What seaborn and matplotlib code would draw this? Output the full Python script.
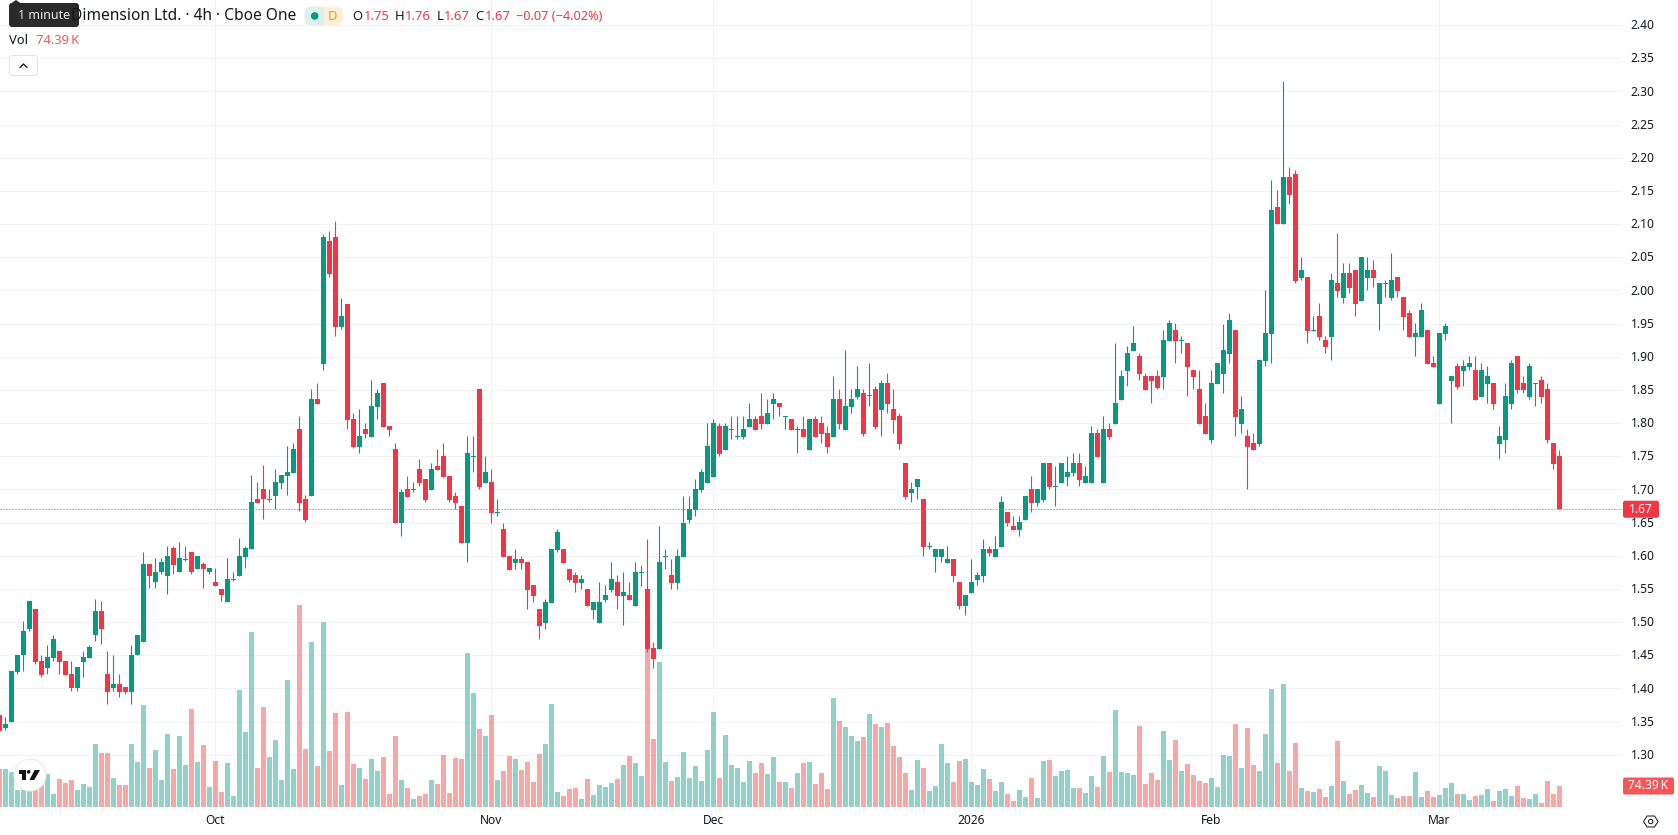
import numpy as np
import pandas as pd
import matplotlib
matplotlib.use("Agg")
import matplotlib.pyplot as plt
from matplotlib.patches import Circle, FancyBboxPatch, Polygon, Rectangle
from matplotlib.transforms import ScaledTranslation
import seaborn as sns

# 4h candles, oldest first (USD)
opens = [
    1.360,1.340,1.349,1.425,1.450,1.489,1.520,1.441,1.431,1.446,
    1.456,1.441,1.421,1.401,1.440,1.446,1.480,1.516,1.421,1.401,
    1.406,1.402,1.394,1.450,1.470,1.587,1.560,1.575,1.570,1.611,
    1.575,1.594,1.606,1.580,1.587,1.575,1.561,1.550,1.530,1.564,
    1.570,1.598,1.610,1.686,1.701,1.684,1.690,1.710,1.720,1.725,
    1.791,1.686,1.690,1.836,1.889,2.075,2.080,1.944,1.980,1.806,
    1.764,1.791,1.779,1.824,1.860,1.796,1.761,1.650,1.700,1.699,
    1.730,1.715,1.699,1.735,1.750,1.720,1.690,1.675,1.619,1.749,
    1.851,1.709,1.711,1.665,1.640,1.599,1.589,1.595,1.590,1.556,
    1.519,1.498,1.528,1.608,1.610,1.580,1.571,1.559,1.549,1.518,
    1.498,1.533,1.548,1.560,1.539,1.540,1.524,1.574,1.549,1.461,
    1.459,1.598,1.571,1.559,1.598,1.654,1.669,1.699,1.709,1.718,
    1.795,1.759,1.790,1.779,1.779,1.794,1.806,1.810,1.798,1.828,
    1.830,1.809,1.806,1.790,1.791,1.759,1.806,1.800,1.785,1.779,
    1.836,1.789,1.824,1.839,1.845,1.840,1.851,1.820,1.860,1.821,
    1.811,1.740,1.694,1.704,1.685,1.613,1.598,1.598,1.589,1.595,
    1.560,1.524,1.544,1.563,1.569,1.610,1.598,1.613,1.666,1.645,
    1.639,1.654,1.700,1.679,1.684,1.740,1.704,1.710,1.719,1.725,
    1.740,1.710,1.710,1.785,1.710,1.791,1.798,1.835,1.879,1.909,
    1.901,1.871,1.871,1.871,1.869,1.924,1.940,1.924,1.921,1.880,
    1.851,1.811,1.775,1.859,1.874,1.904,1.940,1.799,1.780,1.770,
    1.769,1.893,1.934,2.126,2.100,2.171,2.175,2.019,2.020,1.939,
    1.961,1.925,1.930,2.011,1.988,2.026,2.031,1.984,2.019,2.031,
    1.979,2.010,1.988,2.020,1.990,1.966,1.930,1.930,1.940,1.890,
    1.829,1.934,1.863,1.886,1.878,1.884,1.880,1.839,1.859,1.860,
    1.768,1.774,1.829,1.901,1.860,1.839,1.859,1.865,1.851,1.770,1.750,
]
highs = [
    1.360,1.357,1.426,1.451,1.501,1.531,1.520,1.451,1.466,1.481,
    1.456,1.441,1.441,1.432,1.456,1.466,1.535,1.531,1.456,1.451,
    1.421,1.402,1.466,1.481,1.606,1.587,1.596,1.596,1.615,1.615,
    1.621,1.615,1.606,1.600,1.591,1.581,1.581,1.550,1.596,1.576,
    1.626,1.615,1.721,1.711,1.736,1.701,1.731,1.721,1.766,1.770,
    1.811,1.691,1.851,1.860,2.085,2.090,2.105,1.989,1.980,1.815,
    1.821,1.800,1.865,1.851,1.860,1.796,1.770,1.701,1.720,1.711,
    1.745,1.715,1.739,1.761,1.770,1.720,1.696,1.675,1.780,1.780,
    1.851,1.750,1.730,1.685,1.650,1.599,1.610,1.599,1.590,1.556,
    1.519,1.534,1.610,1.640,1.610,1.580,1.575,1.571,1.549,1.530,
    1.560,1.556,1.590,1.571,1.575,1.560,1.590,1.586,1.625,1.470,
    1.644,1.610,1.595,1.610,1.690,1.690,1.715,1.730,1.800,1.806,
    1.800,1.800,1.810,1.810,1.810,1.830,1.810,1.845,1.836,1.845,
    1.830,1.810,1.806,1.795,1.810,1.806,1.810,1.811,1.795,1.871,
    1.851,1.910,1.851,1.886,1.851,1.890,1.856,1.865,1.875,1.851,
    1.815,1.740,1.711,1.716,1.685,1.621,1.610,1.610,1.615,1.595,
    1.560,1.541,1.595,1.575,1.625,1.615,1.630,1.690,1.666,1.660,
    1.660,1.690,1.720,1.700,1.740,1.740,1.735,1.740,1.750,1.755,
    1.755,1.735,1.795,1.791,1.811,1.800,1.921,1.880,1.916,1.946,
    1.906,1.875,1.871,1.880,1.940,1.955,1.951,1.931,1.921,1.880,
    1.880,1.830,1.880,1.890,1.950,1.966,1.940,1.841,1.791,1.785,
    1.895,2.000,2.166,2.151,2.316,2.186,2.181,2.050,2.020,1.961,
    1.981,1.931,2.026,2.086,2.041,2.041,2.031,2.050,2.050,2.046,
    2.011,2.016,2.056,2.020,1.990,1.970,1.951,1.981,1.940,1.901,
    1.936,1.951,1.871,1.890,1.895,1.901,1.901,1.890,1.886,1.860,
    1.795,1.860,1.895,1.901,1.871,1.890,1.860,1.871,1.860,1.770,1.760,
]
lows = [
    1.335,1.337,1.349,1.422,1.426,1.487,1.437,1.417,1.422,1.441,
    1.422,1.420,1.396,1.396,1.417,1.446,1.472,1.467,1.377,1.396,
    1.387,1.392,1.377,1.450,1.470,1.551,1.551,1.572,1.542,1.572,
    1.575,1.592,1.572,1.580,1.551,1.572,1.555,1.532,1.530,1.562,
    1.570,1.581,1.610,1.680,1.656,1.681,1.671,1.701,1.691,1.725,
    1.667,1.651,1.690,1.829,1.880,2.020,1.931,1.941,1.791,1.762,
    1.755,1.777,1.779,1.806,1.794,1.781,1.650,1.630,1.688,1.696,
    1.705,1.681,1.699,1.729,1.718,1.681,1.670,1.619,1.590,1.726,
    1.700,1.709,1.650,1.660,1.598,1.578,1.580,1.580,1.519,1.530,
    1.474,1.489,1.528,1.605,1.589,1.560,1.545,1.549,1.524,1.504,
    1.498,1.530,1.545,1.519,1.495,1.533,1.524,1.555,1.455,1.430,
    1.459,1.580,1.549,1.549,1.598,1.650,1.660,1.696,1.709,1.718,
    1.750,1.759,1.776,1.776,1.776,1.794,1.789,1.791,1.798,1.806,
    1.810,1.791,1.789,1.755,1.779,1.759,1.779,1.770,1.755,1.779,
    1.791,1.789,1.815,1.836,1.780,1.826,1.791,1.780,1.815,1.785,
    1.761,1.685,1.681,1.685,1.599,1.610,1.575,1.590,1.589,1.560,
    1.520,1.511,1.544,1.556,1.560,1.599,1.598,1.613,1.645,1.639,
    1.630,1.654,1.666,1.675,1.681,1.701,1.675,1.710,1.705,1.720,
    1.705,1.710,1.710,1.749,1.710,1.776,1.798,1.835,1.856,1.909,
    1.865,1.850,1.830,1.851,1.851,1.924,1.890,1.906,1.841,1.851,
    1.798,1.784,1.770,1.859,1.845,1.890,1.780,1.785,1.700,1.759,
    1.765,1.886,1.890,2.100,2.100,2.130,2.011,2.016,1.921,1.939,
    1.925,1.906,1.895,1.990,1.981,1.996,1.961,1.984,2.000,2.005,
    1.940,1.990,1.985,1.990,1.940,1.930,1.901,1.930,1.889,1.884,
    1.829,1.925,1.800,1.851,1.856,1.880,1.835,1.839,1.830,1.821,
    1.746,1.755,1.821,1.845,1.845,1.836,1.826,1.830,1.770,1.730,1.670,
]
closes = [
    1.335,1.346,1.426,1.451,1.486,1.531,1.440,1.420,1.447,1.475,
    1.440,1.420,1.401,1.432,1.447,1.462,1.516,1.489,1.394,1.406,
    1.394,1.394,1.451,1.481,1.587,1.570,1.576,1.591,1.600,1.586,
    1.596,1.595,1.575,1.600,1.580,1.581,1.555,1.540,1.565,1.565,
    1.600,1.611,1.681,1.680,1.685,1.685,1.711,1.721,1.726,1.761,
    1.680,1.654,1.836,1.829,2.080,2.024,1.944,1.961,1.805,1.764,
    1.781,1.784,1.826,1.845,1.794,1.789,1.650,1.696,1.688,1.700,
    1.709,1.684,1.730,1.729,1.718,1.684,1.679,1.619,1.755,1.750,
    1.703,1.726,1.664,1.666,1.598,1.578,1.595,1.589,1.548,1.539,
    1.494,1.530,1.610,1.635,1.589,1.563,1.559,1.565,1.524,1.530,
    1.530,1.540,1.565,1.539,1.545,1.533,1.575,1.575,1.459,1.444,
    1.590,1.599,1.559,1.599,1.650,1.670,1.700,1.726,1.765,1.800,
    1.753,1.795,1.791,1.780,1.791,1.806,1.789,1.798,1.815,1.836,
    1.824,1.810,1.789,1.791,1.779,1.806,1.779,1.783,1.764,1.836,
    1.798,1.826,1.836,1.851,1.783,1.841,1.794,1.860,1.829,1.805,
    1.768,1.688,1.700,1.716,1.613,1.614,1.610,1.610,1.595,1.569,
    1.524,1.541,1.560,1.571,1.610,1.604,1.610,1.681,1.649,1.639,
    1.651,1.690,1.679,1.700,1.740,1.704,1.705,1.740,1.726,1.740,
    1.714,1.720,1.785,1.749,1.791,1.779,1.830,1.871,1.906,1.921,
    1.874,1.850,1.863,1.853,1.925,1.951,1.924,1.925,1.884,1.869,
    1.798,1.784,1.860,1.890,1.910,1.955,1.809,1.821,1.764,1.759,
    1.895,1.936,2.121,2.100,2.171,2.144,2.014,2.031,1.939,1.940,
    1.930,1.915,2.016,1.999,2.026,2.004,1.979,2.050,2.031,2.019,
    2.011,2.011,2.016,1.999,1.960,1.930,1.936,1.970,1.889,1.884,
    1.936,1.946,1.871,1.854,1.886,1.890,1.835,1.880,1.871,1.829,
    1.780,1.841,1.890,1.850,1.850,1.886,1.860,1.839,1.774,1.738,1.670,
]
# Volume per candle, thousands of shares
volumes = [
    134.5,134.5,123.9,60.2,60.2,70.8,70.8,77.9,116.8,46.0,
    99.1,85.0,95.6,60.2,81.4,70.8,223.0,191.2,191.2,102.7,
    77.9,77.9,223.0,159.3,361.1,138.1,201.8,95.6,258.4,134.5,
    251.3,148.7,346.9,159.3,219.5,70.8,162.8,53.1,155.8,38.9,
    414.2,265.5,619.5,138.1,354.0,177.0,237.2,95.6,449.6,134.5,
    715.1,205.3,584.1,145.1,654.9,198.2,332.8,77.9,336.3,152.2,
    138.1,99.1,169.9,127.4,177.0,46.0,251.3,95.6,67.3,28.3,
    38.9,46.0,95.6,81.4,184.1,49.6,173.5,169.9,545.2,403.6,
    276.1,251.3,325.7,95.6,127.4,180.5,169.9,131.0,159.3,88.5,
    187.6,223.0,364.6,53.1,38.9,63.7,67.3,28.3,99.1,42.5,
    77.9,70.8,85.0,99.1,148.7,180.5,155.8,109.7,559.3,240.7,
    513.3,159.3,92.0,106.2,194.7,102.7,145.1,92.0,201.8,336.3,
    102.7,254.9,148.7,138.1,88.5,162.8,120.4,155.8,116.8,177.0,
    88.5,88.5,67.3,120.4,155.8,159.3,81.4,120.4,63.7,385.9,
    304.4,283.2,251.3,233.6,247.8,329.2,293.8,283.2,297.4,215.9,
    177.0,120.4,60.2,166.4,138.1,56.6,74.3,223.0,155.8,88.5,
    162.8,169.9,88.5,77.9,134.5,99.1,56.6,88.5,46.0,21.2,
    60.2,35.4,102.7,31.9,162.8,166.4,109.7,127.4,131.0,67.3,
    67.3,49.6,109.7,70.8,180.5,123.9,343.4,123.9,120.4,113.3,
    286.7,81.4,120.4,95.6,269.0,166.4,237.2,127.4,152.2,113.3,
    92.0,85.0,102.7,70.8,184.1,180.5,293.8,138.1,279.7,148.7,
    127.4,258.4,417.7,155.8,435.4,127.4,226.6,67.3,56.6,53.1,
    63.7,35.4,74.3,233.6,92.0,46.0,60.2,77.9,49.6,35.4,
    145.1,127.4,42.5,31.9,38.9,38.9,123.9,35.4,56.6,35.4,
    42.5,67.3,85.0,46.0,46.0,24.8,38.9,42.5,63.7,21.2,
    56.6,63.7,38.9,74.39,31.9,28.3,46.0,14.2,92.0,46.0,74.39,
]
price_ticks = [1.30,1.35,1.40,1.45,1.50,1.55,1.60,1.65,1.70,1.75,1.80,1.85,
               1.90,1.95,2.00,2.05,2.10,2.15,2.20,2.25,2.30,2.35,2.40]
month_bars = [35, 81, 118, 161, 201, 239]
month_labels = ["Oct", "Nov", "Dec", "2026", "Feb", "Mar"]
last_price = 1.67
last_volume = 74.39

UP, DOWN = "#089981", "#F23645"
VOL_UP, VOL_DOWN = "#27A595", "#F0524F"
TAG_RED = "#F4565A"
INK = "#131722"
GRID = "#F2F3F5"
W, H = 1678, 835
PANE_W, PANE_H = 1622, 808
PX = 0.72  # points per pixel at 100 dpi

sns.set_theme(style="white", rc={"axes.edgecolor": "white"})
plt.rcParams["font.family"] = ["Noto Sans", "DejaVu Sans"]

opens, highs, lows, closes = map(np.array, (opens, highs, lows, closes))
bars = np.arange(len(opens)) - 1
rising = closes >= opens
frame = pd.DataFrame({"bar": bars, "volume": volumes,
                      "side": np.where(rising, "up", "down")})

fig = plt.figure(figsize=(W / 100, H / 100), dpi=100, facecolor="white")
ax = fig.add_axes([0, 1 - PANE_H / H, PANE_W / W, PANE_H / H])
ax_vol = ax.twinx()
ax_candle = ax.twinx()

xlim = (-5.33 / 6, (PANE_W - 5.33) / 6)
price_lim = (1.2196, 2.4377)

# Base layer: grid and the two axes' labels
ax.set_xlim(xlim)
ax.set_ylim(price_lim)
ax.yaxis.tick_right()
ax.set_yticks(price_ticks)
ax.set_yticklabels([f"{t:.2f}" for t in price_ticks], fontsize=12 * PX, color=INK)
ax.set_xticks(month_bars)
ax.set_xticklabels(month_labels, fontsize=12 * PX, color=INK)
ax.get_xticklabels()[3].set_fontweight("bold")
ax.tick_params(axis="y", length=0, pad=6.2, labelright=True, labelleft=False)
ax.tick_params(axis="x", length=0, pad=4.5)
ax.grid(True, color=GRID, linewidth=PX)
ax.set_axisbelow(True)
lift = ScaledTranslation(0, 0.7 / 100, fig.dpi_scale_trans)
for tick_label in ax.get_yticklabels():
    tick_label.set_transform(tick_label.get_transform() + lift)

# Volume histogram sharing the pane's lower edge
sns.barplot(data=frame, x="bar", y="volume", hue="side", ax=ax_vol,
            palette={"up": VOL_UP, "down": VOL_DOWN}, native_scale=True,
            dodge=False, width=5 / 6, errorbar=None, saturation=1,
            alpha=0.5, linewidth=0, legend=False)
ax_vol.set_xlim(xlim)
ax_vol.set_ylim(-3.54, 2856.8)
ax_vol.set_xlabel("")
ax_vol.set_ylabel("")
ax_vol.set_yticks([])
ax_vol.grid(False)

# Candles: wicks first, bodies above
colors = np.where(rising, UP, DOWN)
ax_candle.vlines(bars, lows, highs, colors=colors, linewidth=1.1 * PX)
body_low = np.minimum(opens, closes)
body_height = np.maximum(np.abs(opens - closes), 0.0015)
ax_candle.bar(bars, body_height, bottom=body_low, width=5 / 6, color=colors, linewidth=0)
ax_candle.axhline(last_price, color=DOWN, linewidth=PX, linestyle=(0, (1, 2)))
ax_candle.set_xlim(xlim)
ax_candle.set_ylim(price_lim)
ax_candle.set_yticks([])
ax_candle.grid(False)

for a in (ax, ax_vol, ax_candle):
    for spine in a.spines.values():
        spine.set_visible(False)


def pane_y(axes, value):
    """Pixel row, counted from the top of the figure, of a value on an axes."""
    return H - axes.transData.transform((0, value))[1]


# Overlay in figure pixels for the legend, tags and badges
ui = fig.add_axes([0, 0, 1, 1], zorder=10)
ui.set_xlim(0, W)
ui.set_ylim(H, 0)
ui.axis("off")


def label(x, y, text, size=13, color=INK, ha="left", **kw):
    ui.text(x, y, text, fontsize=size * PX, color=color, ha=ha, va="center", **kw)


def rounded(x0, y0, x1, y1, r, **kw):
    ui.add_patch(FancyBboxPatch((x0 + r, y0 + r), x1 - x0 - 2 * r, y1 - y0 - 2 * r,
                                boxstyle=f"round,pad={r},rounding_size={r}", **kw))


# Legend row
label(71, 16, "Dimension Ltd. · 4h · Cboe One", size=15.5)
ui.add_patch(FancyBboxPatch((307, 9), 34, 14, boxstyle="round,pad=2.5,rounding_size=8",
                            facecolor="#FFF0DC", edgecolor="none"))
ui.add_patch(Rectangle((312, 6.5), 12, 19, facecolor="#DDF2EE", edgecolor="none"))
ui.add_patch(FancyBboxPatch((307, 9), 12, 14, boxstyle="round,pad=2.5,rounding_size=8",
                            facecolor="#DDF2EE", edgecolor="none"))
ui.add_patch(Circle((314.7, 16), 3.8, facecolor=UP, edgecolor="none"))
label(332.6, 16, "D", size=13, color="#FF9800", ha="center", fontweight="medium")
for x_key, key, x_val, val in [(352, "O", 364, "1.75"), (395, "H", 405, "1.76"),
                               (437, "L", 444, "1.67"), (475, "C", 485, "1.67")]:
    label(x_key, 16, key, size=13)
    label(x_val, 16, val, size=13, color=DOWN)
label(516, 16, "−0.07 (−4.02%)", size=12.8, color=DOWN)

label(9, 41, "Vol", size=13)
label(36, 41, "74.39\u2009K", size=13, color=TAG_RED)
rounded(9.5, 55.5, 37.5, 75.5, 3, facecolor="white", edgecolor="#E0E3EB", linewidth=PX)
ui.plot([20, 23.5, 27], [67.5, 64, 67.5], color=INK, linewidth=1.4 * PX, solid_capstyle="round")

# Tooltip laid over the symbol name
rounded(9, 3, 79, 27, 3, facecolor="#2A2A2A", edgecolor="none")
ui.add_patch(Polygon([(11, 3.5), (16, 0), (21, 3.5)], facecolor="#2A2A2A", edgecolor="none"))
label(44, 15.5, "1 minute", size=12.5, color="#E8E8E8", ha="center")

# Value tags on the right-hand scale
price_row = pane_y(ax_candle, last_price)
rounded(1623, price_row - 8.5, 1659, price_row + 8.5, 2, facecolor=DOWN, edgecolor="none")
label(1641, price_row, f"{last_price:.2f}", size=12, color="white", ha="center")
vol_row = pane_y(ax_vol, last_volume)
rounded(1623, vol_row - 8.5, 1674, vol_row + 8.5, 2, facecolor=TAG_RED, edgecolor="none")
label(1648.5, vol_row, f"{last_volume:.2f}\u2009K", size=12, color="white", ha="center")

# Settings badge in the scale corner
ui.add_patch(Polygon([(1643.5, 821.5), (1647, 816), (1654.5, 816), (1658, 821.5),
                      (1654.5, 827), (1647, 827)], facecolor="none",
                     edgecolor=INK, linewidth=PX))
ui.add_patch(Circle((1650.7, 821.5), 2.2, facecolor="none", edgecolor=INK, linewidth=PX))

# Brand badge in the pane corner
ui.add_patch(Circle((30, 775), 16, facecolor="white", edgecolor="#ECECEC", linewidth=1.2 * PX))
ui.add_patch(Polygon([(19, 770), (26.3, 770), (26.3, 780), (22.3, 780), (22.3, 773.5), (19, 773.5)],
                     facecolor="#131313", edgecolor="none"))
ui.add_patch(Circle((28.6, 771.8), 1.8, facecolor="#131313", edgecolor="none"))
ui.add_patch(Polygon([(34.6, 770), (40, 770), (34.2, 780), (29.4, 780)],
                     facecolor="#131313", edgecolor="none"))

fig.savefig("out.png", dpi=100, facecolor="white")
